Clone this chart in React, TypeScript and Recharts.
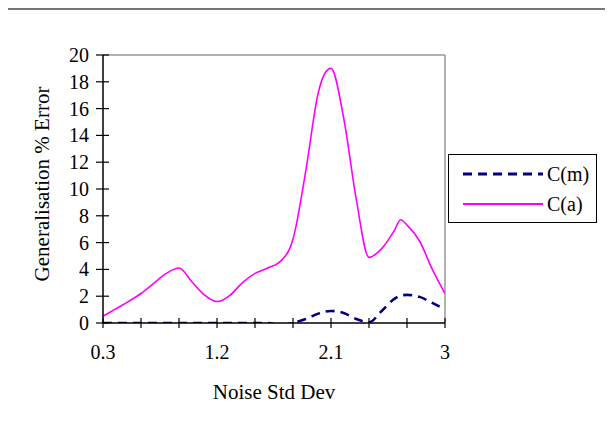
import React from "react";
import {
  Label,
  Line,
  LineChart,
  ReferenceLine,
  XAxis,
  YAxis,
} from "recharts";

// Noise standard deviation (x) and generalisation error (%) for both conditions
const noiseStd = [
  0.3, 0.4, 0.5, 0.6, 0.7, 0.8, 0.9, 1.0, 1.1, 1.2, 1.3, 1.4, 1.5, 1.6, 1.7,
  1.8, 1.9, 2.0, 2.05, 2.1, 2.2, 2.3, 2.4, 2.5, 2.6, 2.65, 2.7, 2.8, 2.9, 3.0,
];
const errorCm = [
  0, 0, 0, 0, 0, 0, 0, 0, 0, 0, 0, 0, 0, 0, -0.15, 0, 0.3, 0.7, 0.85, 0.9,
  0.75, 0.3, 0.05, 0.9, 1.8, 2.05, 2.1, 1.95, 1.5, 1.0,
];
const errorCa = [
  0.5, 1.05, 1.6, 2.2, 2.95, 3.7, 4.1, 3.1, 2.1, 1.6, 2.05, 3.0, 3.7, 4.1, 4.6,
  6.25, 11.3, 17.2, 18.6, 19.0, 15.3, 9.2, 4.9, 5.55, 6.9, 7.7, 7.3, 6.1, 4.0,
  2.2,
];

const xTicks = [0.3, 0.6, 0.9, 1.2, 1.5, 1.8, 2.1, 2.4, 2.7, 3];
const yTicks = [0, 2, 4, 6, 8, 10, 12, 14, 16, 18, 20];

const seriesNames = { cm: "C(m)", ca: "C(a)" };
const colors = { cm: "#000080", ca: "#FF00FF" };

const FONT = "'Times New Roman', 'Liberation Serif', serif";

const data = noiseStd.map((x, i) => ({ x, cm: errorCm[i], ca: errorCa[i] }));

const XTick = (props: any) => {
  const { x, y, payload, index } = props;
  return (
    <g>
      <line x1={x} x2={x} y1={y - 5} y2={y + 5} stroke="#000" strokeWidth={1.2} />
      {index % 3 === 0 && (
        <text
          x={x}
          y={y + 36}
          textAnchor="middle"
          fontFamily={FONT}
          fontSize={20}
          fill="#000"
        >
          {payload.value}
        </text>
      )}
    </g>
  );
};

const YTick = (props: any) => {
  const { x, y, payload } = props;
  return (
    <g>
      <line x1={x - 7} x2={x + 6} y1={y} y2={y} stroke="#000" strokeWidth={1.2} />
      <text
        x={x - 14}
        y={y + 7}
        textAnchor="end"
        fontFamily={FONT}
        fontSize={20}
        fill="#000"
      >
        {payload.value}
      </text>
    </g>
  );
};

const LegendBox = () => (
  <div
    style={{
      position: "absolute",
      left: 448,
      top: 154,
      width: 147,
      height: 67,
      border: "1px solid #000",
      fontFamily: FONT,
      fontSize: 20,
      background: "#fff",
    }}
  >
    {(["cm", "ca"] as const).map((key, i) => (
      <div
        key={key}
        style={{
          position: "absolute",
          left: 14,
          top: 7 + i * 30,
          height: 24,
          display: "flex",
          alignItems: "center",
        }}
      >
        <svg width={80} height={6}>
          <line
            x1={0}
            x2={80}
            y1={3}
            y2={3}
            stroke={colors[key]}
            strokeWidth={key === "cm" ? 3 : 1.8}
            strokeDasharray={key === "cm" ? "9 6" : undefined}
          />
        </svg>
        <span style={{ marginLeft: 4, lineHeight: "24px" }}>{seriesNames[key]}</span>
      </div>
    ))}
  </div>
);

export default function App() {
  return (
    <div
      style={{
        position: "relative",
        width: 613,
        height: 444,
        margin: -8,
        overflow: "hidden",
        background: "#fff",
        fontFamily: FONT,
      }}
    >
      <div
        style={{
          position: "absolute",
          left: 40,
          top: -17,
          fontStyle: "italic",
          fontSize: 20,
          whiteSpace: "nowrap",
          color: "#000",
        }}
      >
        manipulation, C(a) - noise added to database.
      </div>
      <div
        style={{
          position: "absolute",
          left: 5,
          top: 8,
          width: 601,
          height: 460,
          borderLeft: "2px solid #111",
          borderTop: "2px solid #777",
          borderRight: "2px solid #777",
        }}
      />
      <div style={{ position: "absolute", left: 0, top: 0 }}>
        <LineChart
          width={613}
          height={444}
          data={data}
          margin={{ top: 55, right: 168, bottom: 91, left: 48 }}
        >
          <XAxis
            dataKey="x"
            type="number"
            domain={[0.3, 3]}
            ticks={xTicks}
            interval={0}
            height={30}
            tickLine={false}
            tickSize={0}
            tickMargin={0}
            tick={<XTick />}
            axisLine={{ stroke: "#000", strokeWidth: 1.5 }}
            allowDataOverflow
          >
            <Label
              value="Noise Std Dev"
              content={(p: any) => {
                const vb = p.viewBox;
                return (
                  <text
                    x={vb.x + vb.width / 2}
                    y={399}
                    textAnchor="middle"
                    fontFamily={FONT}
                    fontSize={21}
                    fill="#000"
                  >
                    Noise Std Dev
                  </text>
                );
              }}
            />
          </XAxis>
          <YAxis
            type="number"
            domain={[0, 20]}
            ticks={yTicks}
            interval={0}
            width={55}
            tickLine={false}
            tickSize={0}
            tickMargin={0}
            tick={<YTick />}
            axisLine={{ stroke: "#000", strokeWidth: 1.5 }}
            allowDataOverflow
          >
            <Label
              value="Generalisation % Error"
              content={() => {
                const cx = 42;
                const cy = 184;
                return (
                  <text
                    x={cx}
                    y={cy}
                    transform={`rotate(-90 ${cx} ${cy})`}
                    textAnchor="middle"
                    dominantBaseline="central"
                    fontFamily={FONT}
                    fontSize={21}
                    fill="#000"
                  >
                    Generalisation % Error
                  </text>
                );
              }}
            />
          </YAxis>
          <ReferenceLine y={20} stroke="#999" strokeWidth={1.5} />
          <ReferenceLine x={3} stroke="#999" strokeWidth={1.5} />
          <Line
            type="monotone"
            dataKey="ca"
            name={seriesNames.ca}
            stroke={colors.ca}
            strokeWidth={1.6}
            dot={false}
            isAnimationActive={false}
          />
          <Line
            type="monotone"
            dataKey="cm"
            name={seriesNames.cm}
            stroke={colors.cm}
            strokeWidth={2.6}
            strokeDasharray="9 6"
            dot={false}
            isAnimationActive={false}
          />
        </LineChart>
      </div>
      <LegendBox />
    </div>
  );
}
